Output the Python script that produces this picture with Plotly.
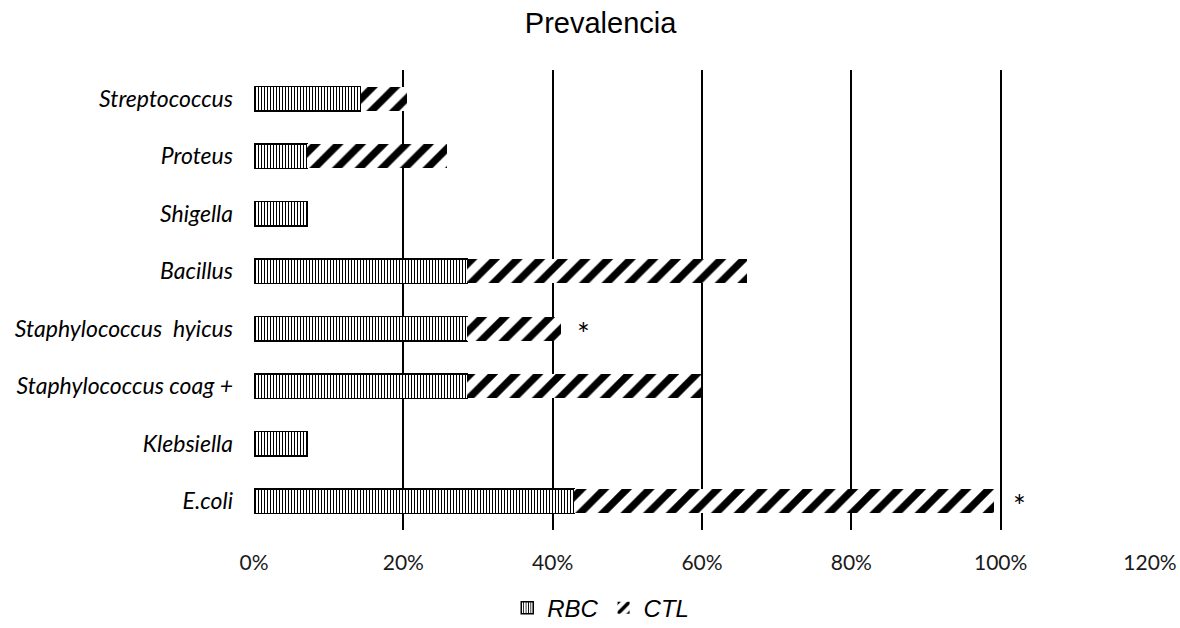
import plotly.graph_objects as go

# Bacterial genera (bottom to top on the chart)
categories = [
    "E.coli",
    "Klebsiella",
    "Staphylococcus coag +",
    "Staphylococcus  hyicus",
    "Bacillus",
    "Shigella",
    "Proteus",
    "Streptococcus",
]

# Prevalence per group, as fractions
rbc_values = [0.4286, 0.0714, 0.2857, 0.2857, 0.2857, 0.0714, 0.0714, 0.1429]
ctl_values = [0.5625, 0.0, 0.3125, 0.125, 0.375, 0.0, 0.1875, 0.0625]

x_ticks = [0, 0.2, 0.4, 0.6, 0.8, 1.0, 1.2]
x_tick_labels = ["0%", "20%", "40%", "60%", "80%", "100%", "120%"]

# Significance markers: (category, x position)
significance = [("Staphylococcus  hyicus", 0.441), ("E.coli", 1.025)]

fig = go.Figure()

fig.add_trace(go.Bar(
    name="RBC",
    y=categories,
    x=rbc_values,
    orientation="h",
    marker=dict(
        color="white",
        line=dict(color="black", width=1.5),
        pattern=dict(shape="|", fgcolor="black", bgcolor="white",
                     fgopacity=1, size=3, solidity=0.34, fillmode="replace"),
    ),
))

fig.add_trace(go.Bar(
    name="CTL",
    y=categories,
    x=ctl_values,
    orientation="h",
    marker=dict(
        color="white",
        line=dict(color="white", width=0),
        pattern=dict(shape="/", fgcolor="black", bgcolor="white",
                     fgopacity=1, size=16, solidity=0.45, fillmode="replace"),
    ),
))

for cat, xpos in significance:
    fig.add_annotation(
        x=xpos, y=cat, text="*", showarrow=False,
        font=dict(family="Lato", size=30, color="black"),
        xanchor="center", yanchor="middle", yshift=-4,
    )

fig.update_layout(
    width=1180,
    height=628,
    barmode="stack",
    bargap=0.58,
    paper_bgcolor="white",
    plot_bgcolor="white",
    margin=dict(l=254, r=30, t=70, b=98, autoexpand=False),
    title=dict(
        text="Prevalencia",
        x=0.509, xref="container", xanchor="center",
        y=0.963, yref="container", yanchor="middle",
        font=dict(family="Liberation Sans, Arial", size=29, color="black"),
    ),
    showlegend=True,
    legend=dict(
        orientation="h",
        x=0.387, xanchor="center",
        y=-0.17, yanchor="middle",
        font=dict(family="Liberation Sans, Arial", size=24, color="black",
                  style="italic"),
        itemwidth=30,
        traceorder="normal",
    ),
    xaxis=dict(
        range=[0, 1.2],
        tickvals=x_ticks,
        ticktext=x_tick_labels,
        showgrid=True,
        gridcolor="black",
        gridwidth=2,
        zeroline=False,
        showline=False,
        ticks="",
        ticklabelstandoff=18,
        tickfont=dict(family="Lato", size=21, color="#1a1a1a"),
        automargin=False,
        fixedrange=True,
    ),
    yaxis=dict(
        categoryorder="array",
        categoryarray=categories,
        showgrid=False,
        zeroline=False,
        showline=False,
        ticks="",
        ticklabelstandoff=20,
        tickfont=dict(family="Lato", size=23, color="black", style="italic"),
        automargin=False,
        fixedrange=True,
    ),
)

fig.write_html("out.html")
